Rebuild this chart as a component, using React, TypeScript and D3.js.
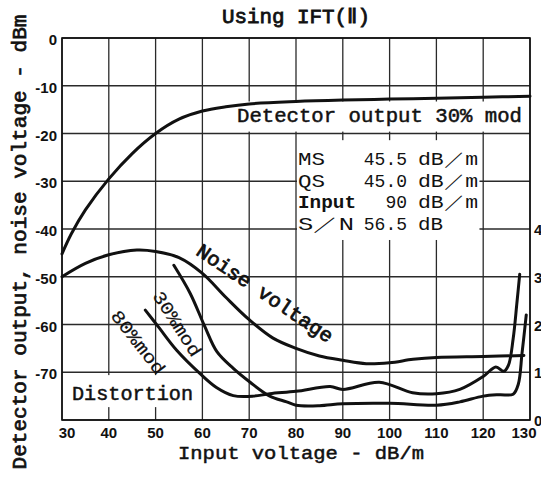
import * as d3 from "d3";

// Detector output, 30% mod  [input dB/m, dBm]
const detectorOutput: [number, number][] = [
  [30, -45.2], [32, -41], [35, -36], [40, -29.5], [45, -24.2], [50, -20],
  [55, -17], [60, -15.3], [65, -14.4], [70, -13.8], [80, -13.3], [90, -13],
  [100, -12.8], [110, -12.6], [120, -12.4], [130, -12.2],
];

// Noise voltage  [input dB/m, dBm]
const noiseVoltage: [number, number][] = [
  [30, -50], [35, -47.2], [40, -45.4], [46, -44.4], [50, -44.7], [55, -46],
  [60, -49.3], [65, -54.3], [70, -59], [75, -62.8], [80, -65], [85, -66.6],
  [90, -67.5], [95, -68.2], [100, -68], [105, -67.3], [110, -66.9], [120, -66.7],
  [128.7, -66.5],
];

// Distortion, 80% mod  [input dB/m, %]
const distortion80: [number, number][] = [
  [47.8, 2.3], [50.6, 1.95], [54.5, 1.46], [59.5, 0.97], [63, 0.68], [66.6, 0.51],
  [71, 0.5], [74.4, 0.55], [80, 0.6], [87.3, 0.7], [90, 0.64], [97.8, 0.79],
  [104.9, 0.57], [110, 0.55], [115, 0.64], [120, 0.91], [122.7, 1.11],
  [124.4, 1.02], [125.4, 1.15], [126.4, 1.7], [127.2, 2.45], [127.8, 3.05],
];

// Distortion, 30% mod  [input dB/m, %]
const distortion30: [number, number][] = [
  [53.9, 3.24], [57.4, 2.65], [60.5, 1.96], [63.1, 1.43], [66.6, 1.08],
  [70.2, 0.79], [74.4, 0.5], [78, 0.38], [80, 0.31], [85, 0.3], [90, 0.34],
  [100, 0.35], [110, 0.31], [115, 0.38], [120, 0.5], [123.5, 0.53],
  [126.4, 0.54], [127.5, 0.75], [128.3, 1.4], [129.2, 2.2],
];

const xTicks = [30, 40, 50, 60, 70, 80, 90, 100, 110, 120, 130];
const yTicks = [0, -10, -20, -30, -40, -50, -60, -70];
const rightTicks = [0, 1, 2, 3, 4];

const infoRows = [
  { label: "MS", value: "45.5", unit: "dB／m" },
  { label: "QS", value: "45.0", unit: "dB／m" },
  { label: "Input", value: "90", unit: "dB／m" },
  { label: "S／N", value: "56.5", unit: "dB" },
];

const W = 541;
const H = 483;
const mono = "'Liberation Mono', 'DejaVu Sans Mono', monospace";
const sans = "'Liberation Sans', Arial, sans-serif";

export default function App() {
  const x = d3.scaleLinear().domain([30, 130]).range([62, 530]);
  const y = d3.scaleLinear().domain([-80, 0]).range([420, 38]);
  // distortion % on the right: 0..8 spans the same height (only 0..4 labelled)
  const yR = d3.scaleLinear().domain([0, 8]).range([420, 38]);

  const lineDb = d3
    .line<[number, number]>()
    .x((d) => x(d[0]))
    .y((d) => y(d[1]))
    .curve(d3.curveCatmullRom.alpha(0.5));

  const linePct = d3
    .line<[number, number]>()
    .x((d) => x(d[0]))
    .y((d) => yR(d[1]))
    .curve(d3.curveCatmullRom.alpha(0.5));

  const grid = "#2a2a2a";
  const ink = "#111";

  return (
    <svg
      width={W}
      height={H}
      style={{ position: "absolute", left: 0, top: 0, background: "#fff" }}
    >
      <rect width={W} height={H} fill="#fff" />

      {/* grid */}
      {d3.range(30, 131, 10).map((v) => (
        <line key={"gx" + v} x1={x(v)} x2={x(v)} y1={y(0)} y2={y(-80)} stroke={grid} strokeWidth={1.3} />
      ))}
      {d3.range(-80, 1, 10).map((v) => (
        <line key={"gy" + v} x1={x(30)} x2={x(130)} y1={y(v)} y2={y(v)} stroke={grid} strokeWidth={1.3} />
      ))}

      {/* white label boxes over the grid */}
      <rect x={x(66.5)} y={y(-13.3)} width={x(129.6) - x(66.5)} height={y(-19.6) - y(-13.3)} fill="#fff" />
      <rect x={x(80) + 1} y={y(-21.4)} width={x(119.2) - x(80) - 1} height={y(-42.3) - y(-21.4)} fill="#fff" />
      <rect x={x(30) + 2} y={y(-70.6)} width={x(58.5) - x(30) - 2} height={y(-77.3) - y(-70.6)} fill="#fff" />

      {/* frame */}
      <rect x={x(30)} y={y(0)} width={x(130) - x(30)} height={y(-80) - y(0)} fill="none" stroke={ink} strokeWidth={1.6} />

      {/* curves */}
      <g fill="none" stroke={ink} strokeWidth={3} strokeLinecap="round" strokeLinejoin="round">
        <path d={lineDb(detectorOutput) ?? ""} />
        <path d={lineDb(noiseVoltage) ?? ""} />
        <path d={linePct(distortion80) ?? ""} />
        <path d={linePct(distortion30) ?? ""} />
      </g>

      {/* tick labels */}
      <g fontFamily={sans} fontWeight="bold" fontSize={15} fill={ink}>
        {yTicks.map((v) => (
          <text key={"yl" + v} x={x(30) - 5} y={y(v) + 7} textAnchor="end">
            {v === 0 ? "0" : "-" + Math.abs(v)}
          </text>
        ))}
        {xTicks.map((v, i) => (
          <text
            key={"xl" + v}
            x={i === 0 ? x(v) + 5 : i === xTicks.length - 1 ? x(v) - 6 : x(v)}
            y={438}
            textAnchor="middle"
          >
            {v}
          </text>
        ))}
        {rightTicks.map((v) => (
          <text key={"rl" + v} x={x(130) + 4} y={yR(v) + 6} textAnchor="start">
            {v}
          </text>
        ))}
      </g>

      {/* titles and labels */}
      <g fontFamily={mono} fill={ink} fontSize={20} stroke={ink} strokeWidth={0.5}>
        <text x={296} y={23} textAnchor="middle" textLength={148} lengthAdjust="spacingAndGlyphs" strokeWidth={0.8}>
          Using IFT(Ⅱ)
        </text>
        <text
          transform="translate(26,242) rotate(-90)"
          textAnchor="middle"
          textLength={455}
          lengthAdjust="spacingAndGlyphs"
          strokeWidth={0.7}
        >
          Detector output, noise voltage - dBm
        </text>
        <text x={301} y={459} textAnchor="middle" textLength={246} lengthAdjust="spacingAndGlyphs" fontSize={19}>
          Input voltage - dB/m
        </text>

        <text x={237} y={122} textLength={285} lengthAdjust="spacingAndGlyphs">
          Detector output 30% mod
        </text>
        <text x={72} y={400} textLength={121} lengthAdjust="spacingAndGlyphs">
          Distortion
        </text>
        <text
          transform="translate(195,254) rotate(34)"
          textLength={160}
          lengthAdjust="spacingAndGlyphs"
          strokeWidth={0.8}
        >
          Noise voltage
        </text>
        <text transform="translate(152,296) rotate(57)" textLength={74} lengthAdjust="spacingAndGlyphs" fontSize={18} strokeWidth={0.2}>
          30%mod
        </text>
        <text transform="translate(110,316) rotate(52)" textLength={76} lengthAdjust="spacingAndGlyphs" fontSize={18} strokeWidth={0.2}>
          80%mod
        </text>
      </g>

      {/* info box */}
      <g fontFamily={mono} fill={ink} fontSize={18}>
        {infoRows.map((r, i) => {
          const by = 165 + i * 21.7;
          return (
            <g key={r.label}>
              <text
                x={298}
                y={by}
                fontWeight={r.label === "Input" ? "bold" : "normal"}
                textLength={r.label === "Input" ? 58 : r.label === "MS" || r.label === "QS" ? 27 : 56}
                lengthAdjust="spacingAndGlyphs"
              >
                {r.label}
              </text>
              <text x={407} y={by} textAnchor="end">
                {r.value}
              </text>
              <text x={418} y={by} textLength={r.unit === "dB" ? 25 : 60} lengthAdjust="spacingAndGlyphs">
                {r.unit}
              </text>
            </g>
          );
        })}
      </g>
    </svg>
  );
}
